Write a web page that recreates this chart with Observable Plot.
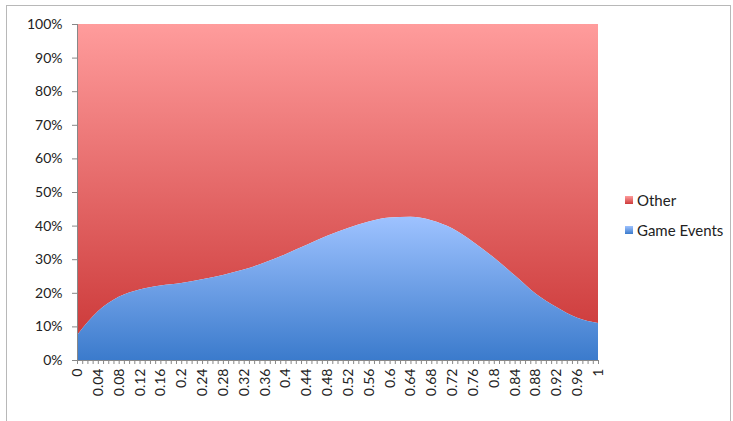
<!DOCTYPE html>
<html>
<head>
<meta charset="utf-8">
<script src="https://cdn.jsdelivr.net/npm/d3@7"></script>
<script src="https://cdn.jsdelivr.net/npm/@observablehq/plot@0.6"></script>
<style>
  html, body { margin: 0; padding: 0; background: #fff; }
  #wrap { position: relative; width: 733px; height: 421px; overflow: hidden; font-family: Lato, "Open Sans", sans-serif; }
  #frame { position: absolute; left: 6px; top: 5px; width: 725px; height: 430px; border: 1px solid #b8b8b8; box-sizing: border-box; }
  #chart { position: absolute; left: 0; top: 0; }
  #legend { position: absolute; left: 625px; top: 190px; font-size: 15px; color: #222; }
  .item { position: relative; height: 30px; line-height: 20px; }
  .sw { position: absolute; left: 0; top: 6px; width: 8px; height: 8px; }
  .lab { position: absolute; left: 12px; top: 0; white-space: nowrap; }
</style>
</head>
<body>
<div id="wrap">
  <div id="frame"></div>
  <div id="chart"></div>
  <div id="legend"></div>
</div>
<script>
// x positions (fraction) and Game Events share (%)
const xValues = [0, 0.04, 0.08, 0.12, 0.16, 0.2, 0.24, 0.28, 0.32, 0.36, 0.4, 0.44, 0.48,
  0.52, 0.56, 0.6, 0.64, 0.68, 0.72, 0.76, 0.8, 0.84, 0.88, 0.92, 0.96, 1];
const gameEvents = [7.4, 14.5, 18.8, 21.0, 22.2, 22.9, 24.0, 25.3, 26.9, 29.0, 31.5, 34.2, 37.0,
  39.3, 41.2, 42.4, 42.6, 41.6, 39.2, 35.2, 30.5, 25.2, 19.8, 15.8, 12.6, 11.0];
const other = gameEvents.map(v => 100 - v);
const seriesNames = ["Other", "Game Events"];
const yTicks = [0, 10, 20, 30, 40, 50, 60, 70, 80, 90, 100];
const xLabelTicks = ["0", "0.04", "0.08", "0.12", "0.16", "0.2", "0.24", "0.28", "0.32", "0.36", "0.4",
  "0.44", "0.48", "0.52", "0.56", "0.6", "0.64", "0.68", "0.72", "0.76", "0.8", "0.84", "0.88",
  "0.92", "0.96", "1"];
const minorTicks = d3.range(0, 101).map(i => i / 100);

const table = xValues.map((x, i) => ({x, ge: gameEvents[i], top: gameEvents[i] + other[i]}));

const defs = () => {
  const svg = d3.create("svg:defs");
  const b = svg.append("linearGradient").attr("id", "gBlue").attr("x1", 0).attr("y1", 0).attr("x2", 0).attr("y2", 1);
  b.append("stop").attr("offset", "0%").attr("stop-color", "#9ec2ff");
  b.append("stop").attr("offset", "100%").attr("stop-color", "#3b7bcc");
  const r = svg.append("linearGradient").attr("id", "gRed").attr("x1", 0).attr("y1", 0).attr("x2", 0).attr("y2", 1);
  r.append("stop").attr("offset", "0%").attr("stop-color", "#ff9c9c");
  r.append("stop").attr("offset", "100%").attr("stop-color", "#cd3b3b");
  return svg.node();
};

const chart = Plot.plot({
  width: 733,
  height: 421,
  marginLeft: 77,
  marginRight: 135,
  marginTop: 24,
  marginBottom: 61,
  style: {background: "transparent", fontFamily: "Lato, 'Open Sans', sans-serif", fontSize: "14px", color: "#222"},
  x: {domain: [0, 1]},
  y: {domain: [0, 100]},
  marks: [
    defs,
    Plot.areaY(table, {x: "x", y1: "ge", y2: "top", fill: "url(#gRed)", curve: "monotone-x"}),
    Plot.areaY(table, {x: "x", y1: 0, y2: "ge", fill: "url(#gBlue)", curve: "monotone-x"}),
    Plot.axisY({ticks: yTicks, tickFormat: d => d + "%", tickSize: 5, tickPadding: 10, label: null, stroke: "#888", fontSize: 14}),
    Plot.ruleX([0], {stroke: "#888"}),
    Plot.ruleY([0], {stroke: "#888"}),
    Plot.axisX({ticks: minorTicks, tickSize: 4, tickFormat: () => "", label: null, stroke: "#888"}),
    Plot.axisX({ticks: xLabelTicks.map(Number), tickFormat: (d, i) => xLabelTicks[i], tickSize: 0, tickPadding: 8, tickRotate: -90, label: null, fontSize: 14})
  ]
});
document.getElementById("chart").appendChild(chart);

const legendColors = {"Other": "linear-gradient(#ff9c9c, #cd3b3b)", "Game Events": "linear-gradient(#9ec2ff, #3b7bcc)"};
const legend = document.getElementById("legend");
seriesNames.forEach(name => {
  const it = document.createElement("div");
  it.className = "item";
  it.innerHTML = `<span class="sw" style="background:${legendColors[name]}"></span><span class="lab">${name}</span>`;
  legend.appendChild(it);
});
</script>
</body>
</html>
